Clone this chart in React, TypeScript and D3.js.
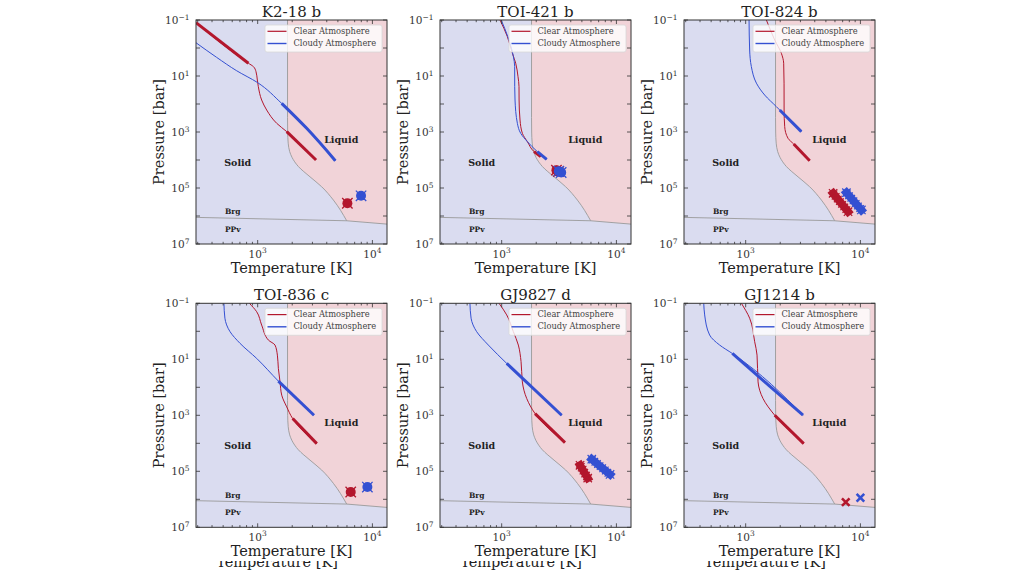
import React from "react";
import * as d3 from "d3";

type Pt = [number, number];

// ---------- data ----------
const PLANETS = ["K2-18 b", "TOI-421 b", "TOI-824 b", "TOI-836 c", "GJ9827 d", "GJ1214 b"];

// Clear atmosphere profiles (T [K], P [bar])
const k218bClear: Pt[] = [[290, 0.125], [830, 3.5], [917, 4.6], [967, 7], [993, 13.9], [1013, 24], [1083, 72], [1198, 164], [1465, 490], [1792, 973], [3228, 1e4]];
const toi421bClear: Pt[] = [[967, 0.1], [1120, 0.39], [1240, 1.55], [1325, 3.5], [1388, 10.6], [1416, 24], [1418, 72], [1445, 373], [1515, 1117], [1675, 2215], [1915, 5040], [2190, 7600]];
const toi824bClear: Pt[] = [[1515, 0.1], [1792, 0.52], [2047, 1.55], [2144, 3.5], [2160, 18], [2162, 164], [2188, 645], [2340, 1683], [2622, 2690], [3614, 1.06e4]];
const toi836cClear: Pt[] = [[846, 0.1], [980, 0.2], [1083, 0.6], [1240, 2.06], [1416, 3.1], [1485, 7.1], [1514, 21], [1566, 64], [1620, 191], [1790, 500], [2018, 1310], [3274, 1.03e4]];
const gj9827dClear: Pt[] = [[948, 0.1], [1106, 0.26], [1264, 1.03], [1397, 3.1], [1475, 12], [1514, 64], [1653, 252], [1953, 866], [3564, 9460]];
const gj1214bClear: Pt[] = [[917, 0.1], [1083, 0.34], [1198, 2.36], [1256, 7.1], [1282, 64], [1416, 252], [1791, 995], [3206, 1.03e4]];

// Cloudy atmosphere profiles
const k218bCloudy: Pt[] = [[290, 0.65], [438, 2.15], [656, 6.5], [993, 17], [1618, 95], [2674, 740], [4753, 1.06e4]];
const toi421bCloudy: Pt[] = [[990, 0.1], [1130, 0.39], [1264, 2.0], [1298, 4.6], [1299, 24], [1307, 72], [1370, 490], [1465, 1117], [1675, 2215], [2047, 5040], [2466, 9460]];
const toi824bCloudy: Pt[] = [[1070, 0.1], [1083, 1.18], [1120, 4.6], [1240, 18], [1465, 48], [1850, 124], [1980, 164], [3055, 973]];
const toi836cCloudy: Pt[] = [[508, 0.1], [518, 0.34], [574, 1.03], [702, 2.7], [980, 9.3], [1514, 60], [3097, 995]];
const gj9827dCloudy: Pt[] = [[529, 0.1], [541, 0.34], [605, 1.03], [765, 3.1], [1106, 14], [3334, 995]];
const gj1214bCloudy: Pt[] = [[431, 0.1], [439, 0.26], [485, 1.36], [593, 3.1], [765, 6.2], [3162, 995]];

// Pressure ranges drawn with the thick line
const k218bClearThick: Pt[] = [[0.1, 3.5], [973, 1.1e4]];
const toi421bClearThick: Pt[] = [[4500, 8000]];
const toi824bClearThick: Pt[] = [[2690, 1.1e4]];
const toi836cClearThick: Pt[] = [[1300, 1.1e4]];
const gj9827dClearThick: Pt[] = [[866, 1e4]];
const gj1214bClearThick: Pt[] = [[995, 1.1e4]];

const k218bCloudyThick: Pt[] = [[95, 1.1e4]];
const toi421bCloudyThick: Pt[] = [[4000, 1e4]];
const toi824bCloudyThick: Pt[] = [[164, 1000]];
const toi836cCloudyThick: Pt[] = [[60, 1000]];
const gj9827dCloudyThick: Pt[] = [[14, 1000]];
const gj1214bCloudyThick: Pt[] = [[6.2, 1000]];

// Interior (surface) samples: one centre for a cluster, or the two ends of an elongated cluster
const k218bClearPts: Pt[] = [[6050, 3.5e5]];
const k218bCloudyPts: Pt[] = [[7960, 1.9e5]];
const toi421bClearPts: Pt[] = [[3000, 2.3e4], [3120, 2.6e4]];
const toi421bCloudyPts: Pt[] = [[3150, 2.5e4], [3300, 2.8e4]];
const toi824bClearPts: Pt[] = [[5780, 1.55e5], [7800, 7.0e5]];
const toi824bCloudyPts: Pt[] = [[7550, 1.47e5], [10200, 6.1e5]];
const toi836cClearPts: Pt[] = [[6470, 5.5e5]];
const toi836cCloudyPts: Pt[] = [[9040, 3.66e5]];
const gj9827dClearPts: Pt[] = [[4820, 6.1e4], [5625, 1.74e5]];
const gj9827dCloudyPts: Pt[] = [[6100, 3.7e4], [8800, 1.3e5]];
const gj1214bClearPts: Pt[] = [[7450, 1.26e6]];
const gj1214bCloudyPts: Pt[] = [[10000, 8.8e5]];

const CLEAR = [k218bClear, toi421bClear, toi824bClear, toi836cClear, gj9827dClear, gj1214bClear];
const CLOUDY = [k218bCloudy, toi421bCloudy, toi824bCloudy, toi836cCloudy, gj9827dCloudy, gj1214bCloudy];
const CLEAR_THICK = [k218bClearThick, toi421bClearThick, toi824bClearThick, toi836cClearThick, gj9827dClearThick, gj1214bClearThick];
const CLOUDY_THICK = [k218bCloudyThick, toi421bCloudyThick, toi824bCloudyThick, toi836cCloudyThick, gj9827dCloudyThick, gj1214bCloudyThick];
const CLEAR_PTS = [k218bClearPts, toi421bClearPts, toi824bClearPts, toi836cClearPts, gj9827dClearPts, gj1214bClearPts];
const CLOUDY_PTS = [k218bCloudyPts, toi421bCloudyPts, toi824bCloudyPts, toi836cCloudyPts, gj9827dCloudyPts, gj1214bCloudyPts];

// Phase boundaries
const MELT: Pt[] = [[1820, 0.1], [1820, 300], [1825, 1000], [1845, 2500], [1900, 5000], [1990, 8000], [2260, 1.7e4], [2860, 4e4], [3610, 9e4], [4570, 2.7e5], [5970, 1.48e6]];
const BRG: Pt[] = [[290, 1.12e6], [5970, 1.48e6], [13400, 1.95e6]];

// Axes
const T_DOMAIN: Pt = [290, 13400];
const P_DOMAIN: Pt = [0.1, 1e7];
const X_MAJOR = [1000, 10000];
const X_MINOR = [300, 400, 500, 600, 700, 800, 900, 2000, 3000, 4000, 5000, 6000, 7000, 8000, 9000];
const X_LABELS = ["3", "4"];
const Y_TICKS = [1e-1, 1, 1e1, 1e2, 1e3, 1e4, 1e5, 1e6, 1e7];
const Y_LABELED = [1e-1, 1e1, 1e3, 1e5, 1e7];
const Y_LABELS = ["\u22121", "1", "3", "5", "7"];

// Region labels
const SOLID_POS: Pt = [670, 1.3e4];
const LIQUID_POS: Pt = [5350, 1950];
const BRG_POS: Pt = [518, 7.4e5];
const PPV_POS: Pt = [518, 3.2e6];

// ---------- layout / style ----------
const COL_X = [196, 440, 684];
const ROW_Y = [20, 303.3];
const PW = 191;
const PH = 224;
const FONT = "DejaVu Serif, serif";
const RED = "#b3172d";
const BLUE = "#3450d2";
const BG = "#dadcf0";
const PINK = "#f1d3d8";
// marker style per panel: cluster blob, elongated band, or plain cross
const SAMPLE_STYLE = ["blob", "blob", "band", "blob", "band", "cross"];

const xs = d3.scaleLog().domain(T_DOMAIN).range([0, PW]);
const ys = d3.scaleLog().domain(P_DOMAIN).range([0, PH]);
const line = d3.line<Pt>().x((d) => xs(d[0])).y((d) => ys(d[1])).curve(d3.curveMonotoneY);
const lineLin = d3.line<Pt>().x((d) => xs(d[0])).y((d) => ys(d[1]));

function sub(profile: Pt[], r: Pt): Pt[] {
  return profile.filter((p) => p[1] >= r[0] * 0.999 && p[1] <= r[1] * 1.001);
}

function cross(cx: number, cy: number, s: number) {
  return `M${cx - s},${cy - s}L${cx + s},${cy + s}M${cx - s},${cy + s}L${cx + s},${cy - s}`;
}

function Samples({ pts, color, style }: { pts: Pt[]; color: string; style: string }) {
  if (style === "cross") {
    return (
      <g>
        {pts.map((p, k) => (
          <path key={k} d={cross(xs(p[0]), ys(p[1]), 3.8)} stroke={color} strokeWidth={2.6} fill="none" />
        ))}
      </g>
    );
  }
  if (style === "band") {
    return (
      <g>
        <path d={lineLin(pts) as string} stroke={color} strokeWidth={8} fill="none" strokeLinecap="square" />
        <path d={lineLin(pts) as string} stroke={color} strokeWidth={10} strokeDasharray="1.2 2.2" fill="none" />
        {pts.map((p, k) => (
          <path key={k} d={cross(xs(p[0]), ys(p[1]), 4.2)} stroke={color} strokeWidth={1.2} fill="none" />
        ))}
      </g>
    );
  }
  return (
    <g>
      {pts.length > 1 && <path d={lineLin(pts) as string} stroke={color} strokeWidth={9} fill="none" strokeLinecap="round" />}
      {pts.map((p, k) => (
        <g key={k}>
          <circle cx={xs(p[0])} cy={ys(p[1])} r={5} fill={color} />
          <path d={cross(xs(p[0]), ys(p[1]), 5.2)} stroke={color} strokeWidth={1.3} fill="none" />
        </g>
      ))}
    </g>
  );
}

function Panel({ i }: { i: number }) {
  const x0 = COL_X[i % 3];
  const y0 = ROW_Y[Math.floor(i / 3)];
  const clip = `clip-${i}`;
  const meltPath = line(MELT) as string;
  const last = BRG[BRG.length - 1];
  const liquid = `${meltPath}L${xs(last[0])},${ys(last[1])}L${xs(last[0])},${ys(P_DOMAIN[0])}Z`;
  return (
    <g transform={`translate(${x0},${y0})`}>
      <defs>
        <clipPath id={clip}>
          <rect x={0} y={0} width={PW} height={PH} />
        </clipPath>
      </defs>
      <rect x={0} y={0} width={PW} height={PH} fill={BG} />
      <g clipPath={`url(#${clip})`}>
        <path d={liquid} fill={PINK} />
        <path d={meltPath} fill="none" stroke="#9a9a9a" strokeWidth={0.9} />
        <path d={lineLin(BRG) as string} fill="none" stroke="#9a9a9a" strokeWidth={0.9} />
      </g>
      <g fontFamily={FONT} fontWeight="bold" fill="#222">
        <text x={xs(SOLID_POS[0])} y={ys(SOLID_POS[1])} fontSize={9.5} textAnchor="middle" dominantBaseline="middle">Solid</text>
        <text x={xs(LIQUID_POS[0])} y={ys(LIQUID_POS[1])} fontSize={9.5} textAnchor="middle" dominantBaseline="middle">Liquid</text>
        <text x={xs(BRG_POS[0])} y={ys(BRG_POS[1])} fontSize={7.5} dominantBaseline="middle">Brg</text>
        <text x={xs(PPV_POS[0])} y={ys(PPV_POS[1])} fontSize={7.5} dominantBaseline="middle">PPv</text>
      </g>
      <g clipPath={`url(#${clip})`} fill="none" strokeLinecap="butt">
        <path d={line(CLEAR[i]) as string} stroke={RED} strokeWidth={1} />
        {CLEAR_THICK[i].map((r, k) => (
          <path key={k} d={line(sub(CLEAR[i], r)) as string} stroke={RED} strokeWidth={3} />
        ))}
        <path d={line(CLOUDY[i]) as string} stroke={BLUE} strokeWidth={1} />
        {CLOUDY_THICK[i].map((r, k) => (
          <path key={k} d={line(sub(CLOUDY[i], r)) as string} stroke={BLUE} strokeWidth={3} />
        ))}
        <Samples pts={CLEAR_PTS[i]} color={RED} style={SAMPLE_STYLE[i]} />
        <Samples pts={CLOUDY_PTS[i]} color={BLUE} style={SAMPLE_STYLE[i]} />
      </g>
      {/* legend */}
      <g fontFamily={FONT} fontSize={8.3} fill="#444">
        <rect x={69} y={5} width={117} height={27} rx={2} fill="#ffffff" fillOpacity={0.8} stroke="#d8d8d8" strokeWidth={0.8} />
        <line x1={71.5} x2={90.5} y1={11.3} y2={11.3} stroke={RED} strokeWidth={1.2} />
        <line x1={71.5} x2={90.5} y1={23.5} y2={23.5} stroke={BLUE} strokeWidth={1.4} />
        <text x={97.5} y={11.3} dominantBaseline="middle">Clear Atmosphere</text>
        <text x={97.5} y={23.5} dominantBaseline="middle">Cloudy Atmosphere</text>
      </g>
      {/* frame */}
      <rect x={0} y={0} width={PW} height={PH} fill="none" stroke="#333" strokeWidth={1} />
      {/* ticks */}
      <g stroke="#333" strokeWidth={0.8}>
        {X_MAJOR.map((t) => (
          <g key={`xM${t}`}>
            <line x1={xs(t)} x2={xs(t)} y1={PH} y2={PH - 4} />
            <line x1={xs(t)} x2={xs(t)} y1={0} y2={4} />
          </g>
        ))}
        {X_MINOR.map((t) => (
          <g key={`xm${t}`}>
            <line x1={xs(t)} x2={xs(t)} y1={PH} y2={PH - 2.2} />
            <line x1={xs(t)} x2={xs(t)} y1={0} y2={2.2} />
          </g>
        ))}
        {Y_TICKS.map((t) => (
          <g key={`y${t}`}>
            <line x1={0} x2={4} y1={ys(t)} y2={ys(t)} />
            <line x1={PW} x2={PW - 4} y1={ys(t)} y2={ys(t)} />
          </g>
        ))}
      </g>
      <g fontFamily={FONT} fontSize={10.5} fill="#333">
        {X_MAJOR.map((t, k) => (
          <text key={`xl${t}`} x={xs(t)} y={PH + 13.5} textAnchor="middle">
            10<tspan dy={-4.5} fontSize={7.5}>{X_LABELS[k]}</tspan>
          </text>
        ))}
        {Y_LABELED.map((t, k) => (
          <text key={`yl${t}`} x={-6.5} y={ys(t) + 4} textAnchor="end">
            10<tspan dy={-4.5} fontSize={7.5}>{Y_LABELS[k]}</tspan>
          </text>
        ))}
      </g>
      <g fontFamily={FONT} fill="#222">
        <text x={PW / 2} y={-3.5} fontSize={15} textAnchor="middle">{PLANETS[i]}</text>
        <text x={PW / 2} y={PH + 28.5} fontSize={14.5} textAnchor="middle">Temperature [K]</text>
        <text transform={`translate(-32.5,${PH / 2}) rotate(-90)`} fontSize={14.5} textAnchor="middle">Pressure [bar]</text>
      </g>
    </g>
  );
}

export default function App() {
  return (
    <svg
      width={1024}
      height={574}
      viewBox="0 0 1024 574"
      style={{ position: "absolute", left: 0, top: 0, background: "#fff" }}
    >
      <defs>
        <clipPath id="cut-bottom">
          <rect x={0} y={561} width={1024} height={13} />
        </clipPath>
      </defs>
      {PLANETS.map((_, i) => (
        <Panel key={i} i={i} />
      ))}
      <g clipPath="url(#cut-bottom)" fontFamily={FONT} fontSize={14.5} fill="#222">
        {COL_X.map((x0) => (
          <text key={x0} x={x0 + PW / 2 - 14.5} y={567} textAnchor="middle">Temperature [K]</text>
        ))}
      </g>
    </svg>
  );
}
